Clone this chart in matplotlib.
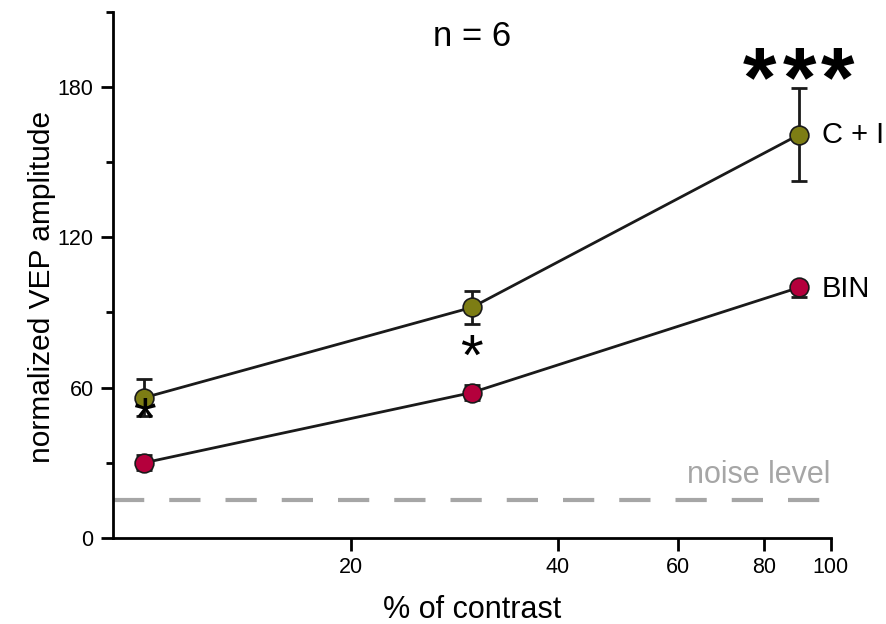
import numpy as np
import matplotlib.pyplot as plt
from matplotlib.ticker import FixedLocator, NullLocator, MultipleLocator

plt.rcParams['font.family'] = ['Liberation Sans', 'DejaVu Sans']

contrast = [10, 30, 90]
ci_mean = [56, 92, 161]
ci_err_lo = [7.5, 6.5, 18.5]
ci_err_hi = [7.5, 6.5, 18.5]
bin_mean = [30, 58, 100]
bin_err_lo = [3, 3, 4]
bin_err_hi = [3, 3, 1.8]
noise = 15
xticks = [20, 40, 60, 80, 100]

olive = '#7d7d14'
crimson = '#b4003c'
dark = '#1a1a1a'

fig = plt.figure(figsize=(8.86, 6.24), dpi=100)
ax = fig.add_axes([0.1275, 0.138, 0.81, 0.843])

ax.axhline(noise, color='#a6a6a6', lw=3, dashes=(7.5, 6), zorder=1)

series = [(ci_mean, ci_err_lo, ci_err_hi, olive),
          (bin_mean, bin_err_lo, bin_err_hi, crimson)]
for m, lo, hi, c in series:
    ax.errorbar(contrast, m, yerr=[lo, hi], fmt='none', ecolor=dark,
                elinewidth=2, capsize=5.5, capthick=2, zorder=2)
    ax.plot(contrast, m, color=dark, lw=2, marker='o', ms=13.5, mfc=c,
            mec=dark, mew=1.2, zorder=3)

ax.set_xscale('log')
ax.set_xlim(9, 100)
ax.set_ylim(0, 210)
ax.xaxis.set_major_locator(FixedLocator(xticks))
ax.xaxis.set_minor_locator(NullLocator())
ax.set_xticklabels([str(t) for t in xticks])
ax.yaxis.set_major_locator(FixedLocator([0, 60, 120, 180]))
ax.yaxis.set_minor_locator(MultipleLocator(30))

for s in ['top', 'right']:
    ax.spines[s].set_visible(False)
for s in ['left', 'bottom']:
    ax.spines[s].set_linewidth(2)
ax.tick_params(which='major', length=9, width=2, labelsize=15.5, pad=5)
ax.tick_params(which='minor', length=5, width=2)

ax.set_xlabel('% of contrast', fontsize=22, labelpad=12)
ax.set_ylabel('normalized VEP amplitude', fontsize=21.5)
ax.yaxis.set_label_coords(-0.079, 0.477)

ax.text(0.5, 0.985, 'n = 6', transform=ax.transAxes, ha='center', va='top', fontsize=25)

# significance stars (asterisk glyph sits high, so anchor a bit lower)
for dx in [-40, 0, 38]:
    ax.annotate('*', xy=(90, 181), xytext=(dx, 0), textcoords='offset pixels',
                ha='center', va='center', fontsize=62, fontweight='bold')
ax.annotate('*', xy=(30, 71), xytext=(0, 0), textcoords='offset pixels',
            ha='center', va='center', fontsize=42)
ax.annotate('*', xy=(10, 46), xytext=(0, 0), textcoords='offset pixels',
            ha='center', va='center', fontsize=42, zorder=5)

ax.text(97, 161, 'C + I', ha='left', va='center', fontsize=21, clip_on=False)
ax.text(97, 99.5, 'BIN', ha='left', va='center', fontsize=21)
ax.text(100, 19, 'noise level', ha='right', va='bottom', fontsize=22, color='#a6a6a6')

fig.savefig('out.png', dpi=100)
